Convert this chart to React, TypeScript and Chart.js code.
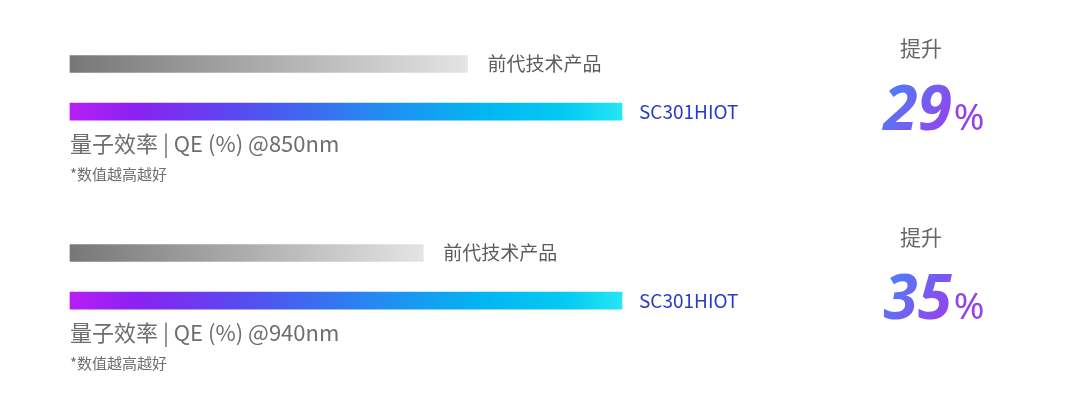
import { useEffect, useRef } from "react";
import { Chart, registerables } from "chart.js";

Chart.register(...registerables);

// data
const categories = ["前代技术产品", "SC301HIOT"];
const qe850 = [36, 50];
const qe940 = [32, 50];
const boosts = [29, 35];
const titles = ["量子效率 | QE (%) @850nm", "量子效率 | QE (%) @940nm"];
const note = "*数值越高越好";
const boostLabel = "提升";

const FONT = "'Noto Sans CJK SC', 'Noto Sans', sans-serif";

function barFill(context: any) {
  const chart = context.chart;
  if (!chart.chartArea) return "#999";
  const xs = chart.scales.x;
  const x0 = xs.getPixelForValue(0);
  const x1 = xs.getPixelForValue(context.raw);
  const g = chart.ctx.createLinearGradient(x0, 0, x1, 0);
  if (context.dataIndex === 0) {
    g.addColorStop(0, "#777777");
    g.addColorStop(1, "#e4e4e4");
  } else {
    g.addColorStop(0, "#b81ef6");
    g.addColorStop(0.12, "#8a22f1");
    g.addColorStop(0.3, "#5a48f0");
    g.addColorStop(0.45, "#3a6ef0");
    g.addColorStop(0.58, "#1f90f1");
    g.addColorStop(0.75, "#02b6f1");
    g.addColorStop(0.9, "#05caf2");
    g.addColorStop(1, "#25e6f5");
  }
  return g;
}

// text at the end of each bar
const barLabels = {
  id: "barLabels",
  afterDatasetsDraw(chart: any) {
    const ctx = chart.ctx;
    const meta = chart.getDatasetMeta(0);
    ctx.save();
    ctx.textBaseline = "middle";
    ctx.textAlign = "left";
    meta.data.forEach((el: any, i: number) => {
      ctx.fillStyle = i === 0 ? "#5c5c5c" : "#2b3cc4";
      ctx.font = i === 0 ? `19px ${FONT}` : `19px ${FONT}`;
      ctx.fillText(chart.data.labels[i], el.x + (i === 0 ? 20 : 17), el.y);
    });
    ctx.restore();
  },
};

// "提升 xx%" on the right
const callout = {
  id: "callout",
  afterDraw(chart: any, _args: any, opts: any) {
    const ctx = chart.ctx;
    ctx.save();
    ctx.fillStyle = "#666666";
    ctx.font = `21px ${FONT}`;
    ctx.textAlign = "center";
    ctx.textBaseline = "middle";
    ctx.fillText(boostLabel, 921, 48);

    const num = String(opts.value);
    const numFont = `italic bold 62px 'Noto Sans', sans-serif`;
    const pctFont = `37px 'Noto Sans', sans-serif`;
    ctx.textAlign = "left";
    ctx.textBaseline = "alphabetic";
    ctx.font = numFont;
    const w1 = ctx.measureText(num).width;
    ctx.font = pctFont;
    const w2 = ctx.measureText("%").width;
    const start = 934 - (w1 + 2 + w2) / 2;
    const base = 130;
    const g = ctx.createLinearGradient(start, base - 45, start + w1, base);
    g.addColorStop(0, "#4784f5");
    g.addColorStop(1, "#9a3ef0");
    ctx.font = numFont;
    ctx.fillStyle = g;
    ctx.fillText(num, start, base);
    ctx.font = pctFont;
    ctx.fillStyle = "#9444e6";
    ctx.fillText("%", start + w1 + 2, base);
    ctx.restore();
  },
};

function QEPanel({ values, title, boost }: { values: number[]; title: string; boost: number }) {
  const chartRef = useRef<HTMLCanvasElement>(null);
  const chartInstance = useRef<Chart | null>(null);

  useEffect(() => {
    if (chartInstance.current) {
      chartInstance.current.destroy();
    }
    const ctx = chartRef.current?.getContext("2d");
    if (ctx) {
      chartInstance.current = new Chart(ctx, {
        type: "bar",
        data: {
          labels: categories,
          datasets: [
            {
              data: values,
              backgroundColor: barFill,
              barThickness: 17,
              borderWidth: 0,
              clip: false,
            },
          ],
        },
        options: {
          indexAxis: "y",
          responsive: true,
          maintainAspectRatio: false,
          animation: false,
          layout: {
            padding: { left: 70, right: 458, top: 64, bottom: 23 },
          },
          scales: {
            x: { display: false, min: 0, max: 50 },
            y: { display: false, offset: false },
          },
          plugins: {
            legend: { display: false },
            tooltip: { enabled: false },
            title: {
              display: true,
              text: title,
              position: "bottom",
              align: "start",
              weight: 1000,
              color: "#6e6e6e",
              font: { family: FONT, size: 22, weight: "normal" },
              padding: { top: 19, bottom: 4 },
            },
            subtitle: {
              display: true,
              text: note,
              position: "bottom",
              align: "start",
              weight: 1200,
              color: "#6e6e6e",
              font: { family: FONT, size: 15, weight: "normal" },
              padding: { top: 4, bottom: 0 },
            },
            // @ts-ignore
            callout: { value: boost },
          },
        },
        plugins: [barLabels, callout],
      });
    }
    return () => {
      if (chartInstance.current) {
        chartInstance.current.destroy();
        chartInstance.current = null;
      }
    };
  }, [values, title, boost]);

  return <canvas ref={chartRef} />;
}

export default function App() {
  useEffect(() => {
    document.body.style.margin = "0";
  }, []);

  return (
    <div style={{ position: "relative", width: 1080, height: 413, background: "#fff" }}>
      <div style={{ position: "absolute", left: 0, top: 0, width: 1080, height: 206 }}>
        <QEPanel values={qe850} title={titles[0]} boost={boosts[0]} />
      </div>
      <div style={{ position: "absolute", left: 0, top: 189, width: 1080, height: 206 }}>
        <QEPanel values={qe940} title={titles[1]} boost={boosts[1]} />
      </div>
    </div>
  );
}
